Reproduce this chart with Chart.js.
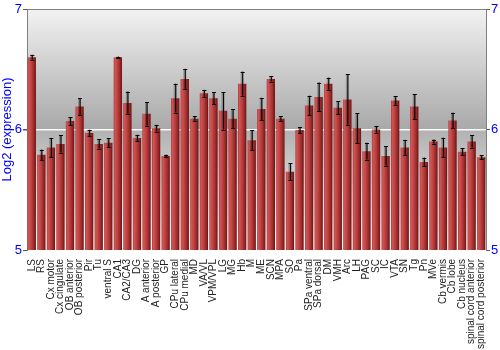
<!DOCTYPE html>
<html>
<head>
<meta charset="utf-8">
<script src="https://cdn.jsdelivr.net/npm/chart.js@4"></script>
<style>
  body { margin: 0; background: #fff; }
</style>
</head>
<body>
<canvas id="chart" width="500" height="350"></canvas>
<script>
// brain regions (x axis)
const regions = ["LS", "RS", "Cx motor", "Cx cingulate", "OB anterior", "OB posterior", "Pir", "Tu",
    "ventral S", "CA1", "CA2/CA3", "DG", "A anterior", "A posterior", "GP", "CPu lateral",
    "CPu medial", "MD", "VA/VL", "VPM/VPL", "LG", "MG", "Hb", "M", "ME", "SCN", "MPA", "SO",
    "Pa", "SPa ventral", "SPa dorsal", "DM", "VMH", "Arc", "LH", "PAG", "SC", "IC", "VTA", "SN",
    "Tg", "Pn", "MVe", "Cb vermis", "Cb lobe", "Cb nucleus", "spinal cord anterior", "spinal cord posterior"];

// mean log2 expression
const expression = [6.60, 5.79, 5.85, 5.88, 6.07, 6.19, 5.97, 5.88,
    5.89, 6.60, 6.22, 5.93, 6.13, 6.01, 5.78, 6.26,
    6.42, 6.09, 6.30, 6.26, 6.155, 6.09, 6.38, 5.91, 6.17, 6.42, 6.09, 5.65,
    5.995, 6.20, 6.27, 6.38, 6.18, 6.25, 6.01, 5.82, 6.00, 5.78, 6.24, 5.85,
    6.19, 5.73, 5.90, 5.85, 6.075, 5.815, 5.90, 5.77];

// error (+/-)
const errors = [0.02, 0.043, 0.08, 0.072, 0.033, 0.07, 0.028, 0.039,
    0.037, 0.005, 0.095, 0.026, 0.098, 0.028, 0.011, 0.12,
    0.083, 0.021, 0.029, 0.048, 0.156, 0.077, 0.10, 0.083, 0.093, 0.022, 0.02, 0.069,
    0.024, 0.08, 0.12, 0.05, 0.053, 0.21, 0.126, 0.07, 0.028, 0.08, 0.036, 0.064,
    0.104, 0.037, 0.017, 0.082, 0.064, 0.029, 0.051, 0.015];

const yMin = 5, yMax = 7;

// gray plot background
const bgPlugin = {
    id: "bg",
    beforeDraw(chart) {
        const a = chart.chartArea, ctx = chart.ctx;
        const g = ctx.createLinearGradient(0, a.top, 0, a.bottom);
        g.addColorStop(0, "#f2f2f2");
        g.addColorStop(0.495, "#a9a9a9");
        g.addColorStop(0.505, "#b2b2b2");
        g.addColorStop(1, "#ffffff");
        ctx.save();
        ctx.fillStyle = g;
        ctx.fillRect(a.left, a.top, a.right - a.left, a.bottom - a.top);
        ctx.restore();
    }
};

// shaded (cylinder look) bars: give each bar its own horizontal gradient
const shadePlugin = {
    id: "shade",
    beforeDatasetsDraw(chart) {
        const ctx = chart.ctx;
        chart.getDatasetMeta(0).data.forEach(bar => {
            const half = bar.width / 2;
            if (!Number.isFinite(bar.x) || !Number.isFinite(half)) return;
            const g = ctx.createLinearGradient(bar.x - half, 0, bar.x + half, 0);
            g.addColorStop(0, "#b03838");
            g.addColorStop(0.15, "#d05656");
            g.addColorStop(0.4, "#c24444");
            g.addColorStop(0.75, "#9a2a2a");
            g.addColorStop(1, "#6a1212");
            bar.options.backgroundColor = g;
        });
    }
};

// error bars on top of each bar
const errPlugin = {
    id: "errbars",
    afterDatasetsDraw(chart) {
        const ctx = chart.ctx, y = chart.scales.y;
        const meta = chart.getDatasetMeta(0);
        ctx.save();
        meta.data.forEach((bar, i) => {
            const top = y.getPixelForValue(expression[i] + errors[i]);
            const bot = y.getPixelForValue(expression[i] - errors[i]);
            ctx.strokeStyle = "rgba(0,0,0,0.25)";
            ctx.lineWidth = 3;
            ctx.beginPath();
            ctx.moveTo(bar.x, top); ctx.lineTo(bar.x, bot);
            ctx.stroke();
            ctx.strokeStyle = "#000";
            ctx.lineWidth = 1;
            ctx.beginPath();
            ctx.moveTo(bar.x + 0.5, top); ctx.lineTo(bar.x + 0.5, bot);
            ctx.moveTo(bar.x - 1.5, Math.round(top) + 0.5); ctx.lineTo(bar.x + 2.5, Math.round(top) + 0.5);
            ctx.moveTo(bar.x - 1.5, Math.round(bot) + 0.5); ctx.lineTo(bar.x + 2.5, Math.round(bot) + 0.5);
            ctx.stroke();
        });
        ctx.restore();
    }
};

const blueTicks = { color: "#0000ff", font: { family: "Liberation Sans", size: 13 }, padding: 1, stepSize: 1 };

new Chart(document.getElementById("chart"), {
    type: "bar",
    data: {
        labels: regions,
        datasets: [{
            data: expression,
            backgroundColor: c => "#b03030",
            borderWidth: 0,
            barPercentage: 0.87,
            categoryPercentage: 1
        }]
    },
    options: {
        responsive: false,
        animation: false,
        layout: { padding: { top: 9, left: 0, right: 0, bottom: 0 } },
        plugins: { legend: { display: false }, tooltip: { enabled: false } },
        scales: {
            x: {
                grid: { display: false },
                border: { display: false },
                ticks: {
                    autoSkip: false, minRotation: 90, maxRotation: 90, padding: 1,
                    color: "#222", font: { family: "Liberation Sans", size: 10 }
                },
                afterFit(s) { s.height = 100; }
            },
            y: {
                position: "left",
                min: yMin, max: yMax,
                ticks: blueTicks,
                grid: {
                    tickLength: 4,
                    tickColor: "#555",
                    lineWidth: c => (c.tick && c.tick.value === 6) ? 1.5 : 1,
                    color: c => {
                        if (!c.tick) return "transparent";
                        if (c.tick.value === 6) return "rgba(255,255,255,0.95)";
                        if (c.tick.value === 7) return "#808080";
                        return "transparent";
                    }
                },
                border: { color: "#808080" },
                title: {
                    display: true, text: "Log2 (expression)", color: "#0000ff",
                    font: { family: "Liberation Sans", size: 13 }, padding: 0
                },
                afterFit(s) { s.width = 27; }
            },
            y2: {
                position: "right",
                min: yMin, max: yMax,
                ticks: blueTicks,
                grid: { drawOnChartArea: false, tickLength: 4, tickColor: "#555" },
                border: { color: "#808080" },
                afterFit(s) { s.width = 14; }
            }
        }
    },
    plugins: [bgPlugin, shadePlugin, errPlugin]
});
</script>
</body>
</html>
